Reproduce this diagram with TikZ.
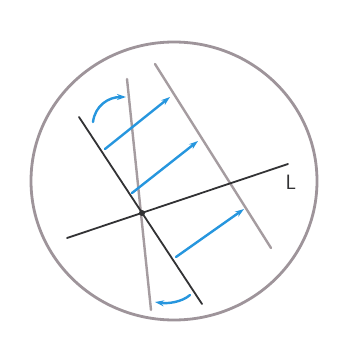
\documentclass[tikz,border=0pt]{standalone}
\usetikzlibrary{arrows.meta,positioning}

\definecolor{rimgrey}{RGB}{158,148,154}
\definecolor{pengrey}{RGB}{165,156,160}
\definecolor{inkdark}{RGB}{50,50,52}
\definecolor{penblue}{RGB}{38,150,222}

\tikzset{
  rim/.style={draw=rimgrey,line width=2.8pt},
  greyline/.style={draw=pengrey,line width=2.4pt,line cap=round},
  darkline/.style={draw=inkdark,line width=1.8pt,line cap=round},
  bluearrow/.style={draw=penblue,line width=2.4pt,line cap=round,-{Stealth[length=9pt,width=6pt]}},
}

\begin{document}
\begin{tikzpicture}[x=1pt,y=-1pt]
\useasboundingbox[fill=white] (0,0) rectangle (342,358);
\draw[rim] (174,181) ellipse [x radius=143,y radius=139];
% lines
\coordinate (l1) at (67,238);
\coordinate (l2) at (288,164);
\coordinate (p1) at (79,117);
\coordinate (p2) at (202,304);
\coordinate (g1) at (127,79);
\coordinate (g2) at (151,310);
\coordinate (h1) at (155,64);
\coordinate (h2) at (271,248);
\draw[greyline] (g1) -- (g2);
\draw[greyline] (h1) -- (h2);
\draw[darkline] (l1) -- (l2);
\draw[darkline] (p1) -- (p2);
\node[circle,fill=inkdark,inner sep=0pt,minimum size=6pt] (o) at (142,213) {};
\node[font=\sffamily\huge,text=inkdark] (lab) at (291,182) {L};
% arrows
\coordinate (a1) at (105,149);
\coordinate (b1) at (170,97);
\coordinate (a2) at (132,193);
\coordinate (b2) at (198,141);
\coordinate (a3) at (176,257);
\coordinate (b3) at (244,209);
\draw[bluearrow] (a1) -- (b1);
\draw[bluearrow] (a2) -- (b2);
\draw[bluearrow] (a3) -- (b3);
\coordinate (c1) at (93,122);
\coordinate (d1) at (126,97);
\coordinate (c2) at (190,295);
\coordinate (d2) at (155,302);
\draw[bluearrow] (c1) .. controls (95,106) and (108,97) .. (d1);
\draw[bluearrow] (c2) .. controls (182,302) and (168,304) .. (d2);
\end{tikzpicture}
\end{document}
